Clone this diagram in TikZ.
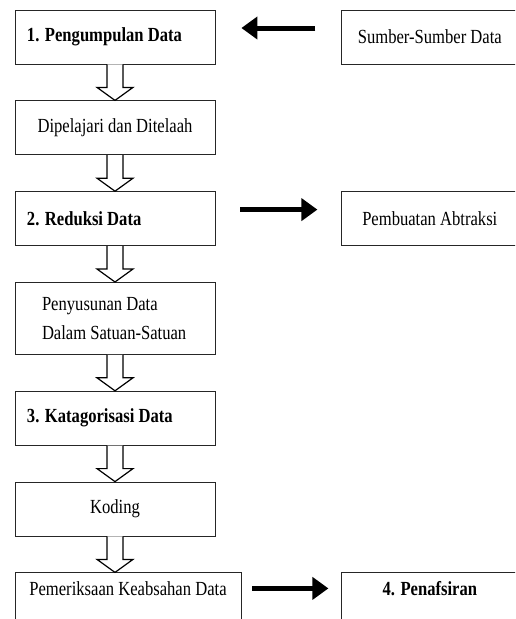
\documentclass[tikz,border=0pt]{standalone}
\usepackage{fontspec}
\setmainfont{Liberation Serif}[FakeStretch=0.83]
\usepackage{tikz}
\usetikzlibrary{positioning, arrows.meta, calc}

\begin{document}
\begin{tikzpicture}[
    x=1pt, y=1pt,
    node distance=36pt and 126pt, % Vertical and horizontal spacing
    box/.style={draw=black!85, line width=0.8pt, rectangle, minimum height=54pt, minimum width=200pt, align=center, font=\fontsize{20pt}{24pt}\selectfont},
    lbox/.style={box, text width=176pt, inner xsep=12pt, align=flush left},
    rbox/.style={box, minimum width=176pt},
    openbox/.style={text height=19pt, text depth=30pt},
    blockarrow/.style={draw=black, line width=1.2pt, fill=white, to path={
        ($(\tikztostart)+(-8pt,0)$) -- ($(\tikztotarget)+(-8pt,13pt)$) -- ($(\tikztotarget)+(-18pt,13pt)$) -- (\tikztotarget)
        -- ($(\tikztotarget)+(18pt,13pt)$) -- ($(\tikztotarget)+(8pt,13pt)$) -- ($(\tikztostart)+(8pt,0)$)}},
    fatarrow/.style={line width=5pt, -{Triangle[length=16pt, width=22pt]}}
]
\useasboundingbox (0,0) rectangle (515,-619);
\clip (0,0) rectangle (515,-619);

%%%%% Main chain
\node[lbox] (pd) at (115,-37) {\textbf{1. Pengumpulan Data}};
\node[box,  below=of pd] (dd) {Dipelajari dan Ditelaah};
\node[lbox, below=of dd] (rd) {\textbf{2. Reduksi Data}};
\node[lbox, below=of rd, minimum height=72pt, inner xsep=27pt, text width=146pt] (sd) {Penyusunan Data\\[5pt]Dalam Satuan-Satuan};
\node[lbox, below=of sd] (kd) {\textbf{3. Katagorisasi Data}};
\node[box,  below=of kd] (kod) {Koding};
\node[box, openbox, below=of kod.south west, anchor=north west, minimum width=226pt] (pk) {Pemeriksaan Keabsahan Data};

%  Side boxes
\node[rbox, right=of pd] (sb) {Sumber-Sumber Data};
\node[rbox, right=of rd] (pa) {Pembuatan Abtraksi};
\node[rbox, openbox, anchor=north west] at ([xshift=100pt]pk.north east) (pf) {\textbf{4. Penafsiran}};

\coordinate (pkr) at ([yshift=-16pt]pk.north east);

%  Hollow arrows down the chain
\draw[blockarrow] (pd.south) to (dd.north);
\draw[blockarrow] (dd.south) to (rd.north);
\draw[blockarrow] (rd.south) to (sd.north);
\draw[blockarrow] (sd.south) to (kd.north);
\draw[blockarrow] (kd.south) to (kod.north);
\draw[blockarrow] (kod.south) to ([xshift=-13pt]pk.north);

%  Side arrows
\draw[fatarrow, shorten <=26pt, shorten >=26pt] ([yshift=9pt]sb.west) -- ([yshift=9pt]pd.east);
\draw[fatarrow, shorten <=25pt, shorten >=24pt] ([yshift=9pt]rd.east) -- ([yshift=9pt]pa.west);
\draw[fatarrow, shorten <=11pt, shorten >=13pt] (pkr) -- (pkr -| pf.west);

\end{tikzpicture}
\end{document}
